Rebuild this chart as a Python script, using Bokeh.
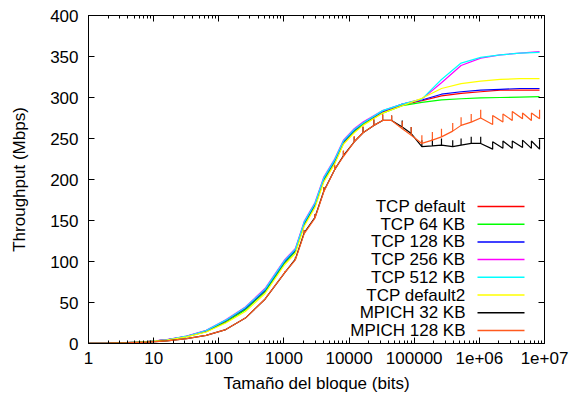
import numpy as np
from bokeh.plotting import figure
from bokeh.models import Range1d, FixedTicker, LogAxis, LinearAxis, Label, PolyAnnotation
from bokeh.embed import file_html
from bokeh.resources import INLINE

# ---------------- data ----------------
x_tcp = [1, 2, 4, 8, 16, 32, 64, 128, 256, 512, 1024, 1500, 2048, 3000, 4096, 6000,
         8192, 12000, 16384, 32768, 65536, 131072, 262144, 524288, 1048576,
         2097152, 4194304, 8388608]

tcp_default = [0.3, 0.6, 1.2, 2.3, 4.5, 8.5, 15, 27, 42, 64, 99, 113, 146, 169, 200, 221,
               245, 259, 268, 282, 291, 296, 302, 305, 307, 309, 309, 309]
tcp_64 = [0.3, 0.6, 1.2, 2.3, 4.4, 8.3, 14.5, 26, 41, 63, 98, 112, 145, 168, 199, 220,
          244, 258, 267, 281, 290, 294, 297, 298.5, 299.5, 300, 300.5, 301]
tcp_128 = [0.3, 0.6, 1.2, 2.3, 4.6, 8.7, 15.5, 28, 43, 65, 100, 114, 147, 170, 201, 223,
           246, 260, 269, 283, 292, 297, 304, 307, 309, 310, 311, 311]
tcp_256 = [0.3, 0.6, 1.2, 2.4, 4.7, 9, 16, 29, 44.5, 67, 102, 116, 149, 172, 203, 225,
           248, 262, 270, 284, 292, 298, 318, 339, 348, 352, 354, 356]
tcp_512 = [0.3, 0.6, 1.2, 2.4, 4.6, 8.9, 15.8, 28.5, 44, 66, 101, 115, 148, 171, 202, 224,
           247, 261, 269, 284, 292, 298, 322, 342, 349, 352, 354, 355]
tcp_default2 = [0.3, 0.6, 1.1, 2.2, 4.2, 8, 14, 25, 39, 61, 96, 110, 143, 166, 197, 219,
                243, 257, 266, 281, 290, 299, 311, 317, 320, 322, 323, 323]

mpich_x = [1, 2, 4, 8, 16, 32, 64, 128, 256, 512, 1024, 1500, 2048, 3000, 4096, 6000,
           8192, 12000, 16384, 24000, 32768, 45000, 65536, 90000, 131072, 190000,
           262144, 390000, 524288, 750000, 1048576]
mpich_32 = [0.2, 0.4, 0.8, 1.6, 3.3, 6, 10, 17, 31, 54, 86, 103, 135, 154, 186, 212,
            229, 246, 257, 266, 272, 272, 264, 256, 240, 241, 242, 240, 242, 244, 244]
mpich_32_err = [0, 0, 0, 0, 0, 0, 0, 0, 0, 0, 1, 2, 3, 4, 5, 5,
                6, 6, 7, 7, 7, 6, 8, 8, 8, 8, 8, 8, 8, 8, 8]
mpich_128 = [0.2, 0.4, 0.8, 1.6, 3.3, 6, 10, 17, 31, 54, 86, 102, 134, 153, 185, 212,
             228, 246, 257, 266, 272, 272, 262, 254, 244, 248, 252, 259, 266, 270, 275]
mpich_128_err = [0, 0, 0, 0, 0, 0, 0, 0, 0, 0, 2, 3, 4, 5, 6, 6,
                 7, 7, 8, 8, 8, 6, 9, 10, 10, 10, 10, 10, 10, 10, 10]

tail_x = [1.6e6, 2.3e6, 3.2e6, 4.6e6, 6.3e6, 8.4e6]
mpich_32_tail_lo = [237, 238, 238, 239, 238, 237]
mpich_32_tail_hi = [246, 247, 247, 248, 247, 249]
mpich_128_tail_lo = [267, 270, 272, 274, 272, 274]
mpich_128_tail_hi = [278, 280, 283, 281, 281, 285]

x_ticks = [1, 10, 100, 1000, 10000, 100000, 1000000, 10000000]
x_tick_labels = ["1", "10", "100", "1000", "10000", "100000", "1e+06", "1e+07"]
y_ticks = [0, 50, 100, 150, 200, 250, 300, 350, 400]

legend_labels = ["TCP default", "TCP 64 KB", "TCP 128 KB", "TCP 256 KB", "TCP 512 KB",
                 "TCP default2", "MPICH 32 KB", "MPICH 128 KB"]
colors = ["#ff0000", "#00ff00", "#0000ff", "#ff00ff", "#00ffff", "#ffff00",
          "#000000", "#ff5a1e"]

FONT = "Liberation Sans"
FS = "17px"

x_minor = [m * 10 ** k for k in range(7) for m in range(2, 10)]

p = figure(width=572, height=400, x_axis_type="log",
           x_range=Range1d(1, 1e7), y_range=Range1d(0, 400),
           output_backend="svg", toolbar_location=None,
           min_border_left=88, min_border_right=28, min_border_top=15,
           min_border_bottom=57)
p.grid.visible = False
p.outline_line_color = "black"
p.outline_line_width = 1
p.background_fill_color = "white"
p.border_fill_color = "white"

xt = FixedTicker(ticks=x_ticks, minor_ticks=x_minor)
yt = FixedTicker(ticks=y_ticks, minor_ticks=[])

xa = p.xaxis[0]
xa.ticker = xt
xa.major_label_overrides = {t: l for t, l in zip(x_ticks, x_tick_labels)}
ya = p.yaxis[0]
ya.ticker = yt

for ax in (xa, ya):
    ax.major_tick_in = 6
    ax.major_tick_out = 0
    ax.minor_tick_in = 3
    ax.minor_tick_out = 0
    ax.axis_line_color = "black"
    ax.major_tick_line_color = "black"
    ax.minor_tick_line_color = "black"
    ax.major_label_text_font = FONT
    ax.major_label_text_font_size = FS
    ax.major_label_text_color = "black"
    ax.axis_label_text_font = FONT
    ax.axis_label_text_font_size = FS
    ax.axis_label_text_font_style = "normal"
    ax.axis_label_text_color = "black"

xa.axis_label = "Tamaño del bloque (bits)"
xa.major_label_standoff = 8
xa.axis_label_standoff = 7
ya.axis_label = "Throughput (Mbps)"
ya.major_label_standoff = 10
ya.axis_label_standoff = 18

top = LogAxis(ticker=FixedTicker(ticks=x_ticks, minor_ticks=x_minor),
              major_label_text_font_size="0px", major_label_text_color=None,
              major_label_standoff=0, major_tick_in=6, major_tick_out=0,
              minor_tick_in=3, minor_tick_out=0, axis_line_color="black")
p.add_layout(top, "above")
right = LinearAxis(ticker=FixedTicker(ticks=y_ticks, minor_ticks=[]),
                   major_label_text_font_size="0px", major_label_text_color=None,
                   major_label_standoff=0, major_tick_in=6, major_tick_out=0,
                   axis_line_color="black")
p.add_layout(right, "right")

LW = 1.2
tcp_series = [tcp_default, tcp_64, tcp_128, tcp_256, tcp_512, tcp_default2]
for ys, c in zip(tcp_series, colors[:6]):
    p.line(x_tcp, ys, line_color=c, line_width=LW)


def mpich_path(ys, lo, hi):
    xs = list(mpich_x)
    yy = list(ys)
    for t, a, b in zip(tail_x, lo, hi):
        xs += [t, t]
        yy += [a, b]
    return xs, yy


for ys, err, lo, hi, c in [(mpich_32, mpich_32_err, mpich_32_tail_lo, mpich_32_tail_hi, colors[6]),
                           (mpich_128, mpich_128_err, mpich_128_tail_lo, mpich_128_tail_hi, colors[7])]:
    xs, yy = mpich_path(ys, lo, hi)
    p.line(xs, yy, line_color=c, line_width=LW)
    ex = [x for x, e in zip(mpich_x, err) if e > 0]
    ey0 = [y for y, e in zip(ys, err) if e > 0]
    ey1 = [y + e for y, e in zip(ys, err) if e > 0]
    p.segment(x0=ex, y0=ey0, x1=ex, y1=ey1, line_color=c, line_width=LW)

# legend (gnuplot style: right-aligned text, sample line on the right)
row0 = 137
dy = 17.7
for i, (lab, c) in enumerate(zip(legend_labels, colors)):
    yy = row0 - dy * i
    p.add_layout(Label(x=377, y=yy, x_units="screen", y_units="screen", text=lab,
                       text_align="right", text_baseline="middle",
                       text_font=FONT, text_font_size=FS, text_color="black"))
    p.add_layout(PolyAnnotation(xs=[389, 436], ys=[yy, yy], xs_units="screen",
                                ys_units="screen", line_color=c, line_width=1.5,
                                fill_alpha=0, line_alpha=1))

open("out.html", "w").write(file_html(p, INLINE))
